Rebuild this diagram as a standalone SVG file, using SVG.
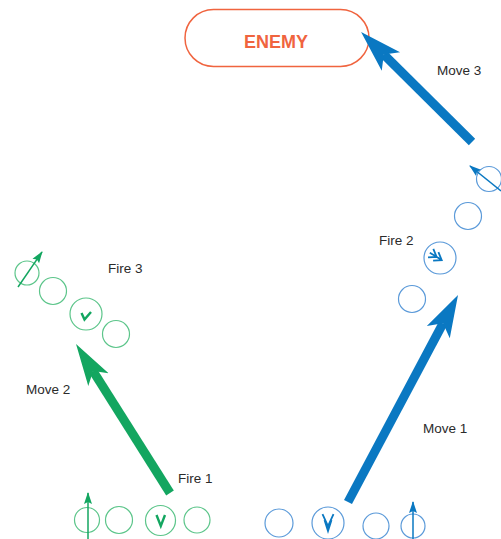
<svg xmlns="http://www.w3.org/2000/svg" width="501" height="539" viewBox="0 0 501 539">
<style>
.lbl{font-family:"Liberation Sans",Arial,sans-serif;font-size:13.5px;fill:#2b2b2b}
.gc{fill:none;stroke:#5cc58a;stroke-width:1.2}
.bc{fill:none;stroke:#5b9ad9;stroke-width:1.2}
.gbig{fill:none;stroke:#13a660;stroke-width:9}
.bbig{fill:none;stroke:#0a78c2;stroke-width:9}
.gsm{fill:none;stroke:#13a660;stroke-width:1.5}
.bsm{fill:none;stroke:#0a78c2;stroke-width:1.5}
.gch{fill:none;stroke:#13a660;stroke-width:2.4;stroke-linejoin:miter}
.bch{fill:none;stroke:#0a78c2;stroke-width:1.8}
</style>
<defs>
<marker id="hg" markerUnits="userSpaceOnUse" viewBox="0 -14 42 28" refX="10" refY="0" markerWidth="42" markerHeight="28" orient="auto"><path d="M0,-12 L42,0 L0,12 L10,0 Z" fill="#13a660"/></marker>
<marker id="hb" markerUnits="userSpaceOnUse" viewBox="0 -14 42 28" refX="10" refY="0" markerWidth="42" markerHeight="28" orient="auto"><path d="M0,-13 L42,0 L0,13 L10,0 Z" fill="#0a78c2"/></marker>
<marker id="sg" markerUnits="userSpaceOnUse" viewBox="0 -5 12 10" refX="11" refY="0" markerWidth="12" markerHeight="10" orient="auto"><path d="M0,-4 L12,0 L0,4 L2,0 Z" fill="#13a660"/></marker>
<marker id="sb" markerUnits="userSpaceOnUse" viewBox="0 -5 12 10" refX="11" refY="0" markerWidth="12" markerHeight="10" orient="auto"><path d="M0,-4 L12,0 L0,4 L2,0 Z" fill="#0a78c2"/></marker>
</defs>

<g id="enemy">
<rect x="185" y="9.5" width="184" height="57" rx="28.5" fill="#fff" stroke="#f0643f" stroke-width="1.5"/>
<text x="276" y="48" text-anchor="middle" font-family="Liberation Sans,Arial,sans-serif" font-size="18" font-weight="bold" fill="#f0643f">ENEMY</text>
</g>

<g id="green-bottom">
<circle class="gc" cx="87" cy="520" r="12.5"/>
<circle class="gc" cx="119" cy="520" r="13.5"/>
<circle class="gc" cx="160.5" cy="520.5" r="15"/>
<polyline class="gch" points="156.5,515 160.8,526 165,515"/>
<circle class="gc" cx="197" cy="520" r="13"/>
</g>

<g id="green-top">
<circle class="gc" cx="27" cy="273" r="12"/>
<circle class="gc" cx="53" cy="291" r="13.5"/>
<circle class="gc" cx="86" cy="314" r="16"/>
<polyline class="gch" points="81.5,313 84.5,319.5 91,312" stroke-width="2"/>
<circle class="gc" cx="116" cy="334" r="13.5"/>
</g>

<g id="blue-bottom">
<circle class="bc" cx="279" cy="523" r="14"/>
<circle class="bc" cx="328" cy="523" r="16"/>
<path class="bch" d="M322.5,514 L328,526 L333.5,514 M324.5,520 L328,531 L331.5,520"/>
<circle class="bc" cx="376" cy="526" r="13"/>
<circle class="bc" cx="413" cy="526" r="12"/>
</g>

<g id="blue-right">
<circle class="bc" cx="489" cy="179" r="12.5"/>
<circle class="bc" cx="468" cy="216" r="13.5"/>
<circle class="bc" cx="440" cy="258" r="16"/>
<g transform="translate(440,259) rotate(32)">
<path class="bch" d="M-11,-5 L-4,0 L-11,5 M-5,-5 L2,0 L-5,5 M-12,0 L2,0"/>
</g>
<circle class="bc" cx="412" cy="299" r="13.5"/>
</g>

<g id="connectors">
<line class="bbig" x1="472" y1="142" x2="383.8" y2="54.5" marker-end="url(#hb)"/>
<line class="bbig" x1="348" y1="502" x2="443" y2="323.3" marker-end="url(#hb)"/>
<line class="gbig" x1="170" y1="493" x2="93.1" y2="371.1" marker-end="url(#hg)"/>
<line class="gsm" x1="88" y1="539" x2="88" y2="493" marker-end="url(#sg)"/>
<line class="gsm" x1="18" y1="287" x2="42" y2="252" marker-end="url(#sg)"/>
<line class="bsm" x1="413" y1="539" x2="413" y2="502" marker-end="url(#sb)"/>
<line class="bsm" x1="501" y1="191" x2="470" y2="166" marker-end="url(#sb)"/>
</g>

<g id="labels">
<text class="lbl" x="437" y="75">Move 3</text>
<text class="lbl" x="379" y="245">Fire 2</text>
<text class="lbl" x="108" y="273">Fire 3</text>
<text class="lbl" x="26" y="394">Move 2</text>
<text class="lbl" x="423" y="432.5">Move 1</text>
<text class="lbl" x="178" y="483">Fire 1</text>
</g>
</svg>
